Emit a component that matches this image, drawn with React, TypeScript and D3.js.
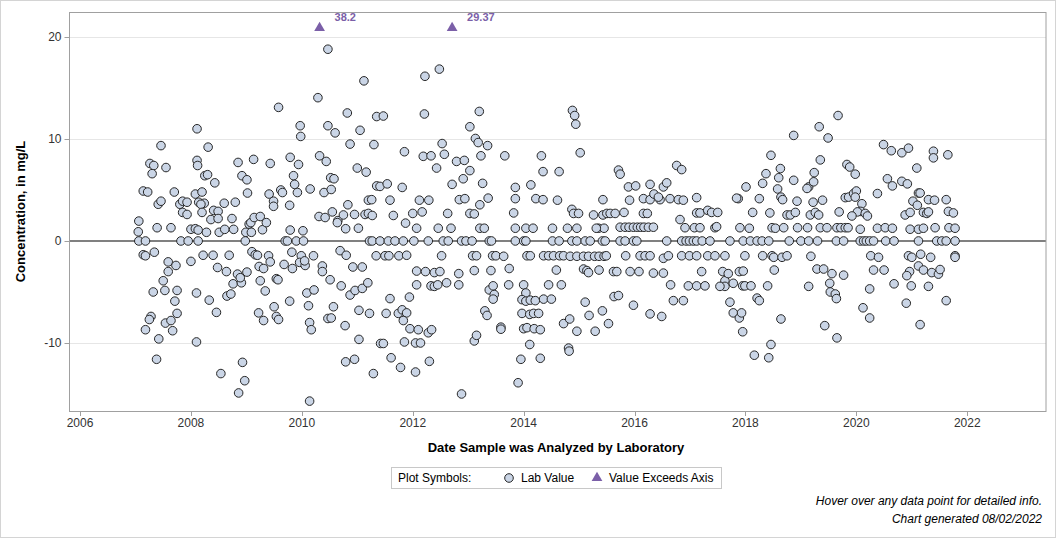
import React from "react";
import * as d3 from "d3";

// ---- data: [decimal year analyzed, concentration mg/L] ----
const labValues2007to2008: [number, number][] = [
  [2007.06,1.95],[2007.05,0.9],[2007.06,0],[2007.18,0],[2007.14,4.9],[2007.22,4.8],[2007.14,-1.35],[2007.18,-1.45],[2007.34,-1.1],[2007.26,7.6],[2007.33,7.4],[2007.3,6.6],[2007.46,9.35],[2007.55,7.2],[2007.41,3.6],[2007.46,3.9],[2007.39,1.3],[2007.64,1.3],[2007.7,4.8],[2007.8,3.6],[2007.85,3.9],[2007.85,2.8],[2007.93,2.6],[2007.93,3.8],[2007.82,0],[2007.95,0],[2008.0,1.15],[2008.08,1.2],[2008.13,0],[2007.59,-2.05],[2007.59,-3.0],[2007.73,-2.4],[2008.0,-2.0],[2007.5,-3.9],[2007.32,-5.0],[2007.53,-4.85],[2007.75,-4.85],[2007.71,-5.9],[2007.75,-7.1],[2007.28,-7.4],[2007.25,-7.7],[2007.18,-8.7],[2007.54,-8.05],[2007.64,-7.8],[2007.67,-8.8],[2007.42,-9.6],[2007.38,-11.6],[2008.1,-9.9],[2008.1,-5.1],[2008.11,11.0],[2008.11,7.9],[2008.12,7.4],[2008.08,4.6],
  [2008.13,1.07],[2008.31,9.2],[2008.25,6.4],[2008.3,6.5],[2008.43,5.7],[2008.2,4.8],[2008.14,3.8],[2008.24,3.7],[2008.18,3.6],[2008.2,2.8],[2008.41,3.0],[2008.49,2.9],[2008.36,2.1],[2008.49,2.2],[2008.28,0.85],[2008.51,0.85],[2008.61,1.14],[2008.77,1.14],[2008.6,3.7],[2008.8,3.8],[2008.74,2.2],[2008.22,-1.4],[2008.4,-1.4],[2008.69,-1.4],[2008.48,-2.6],[2008.64,-3.0],[2008.33,-5.8],[2008.65,-5.4],[2008.72,-5.2],[2008.76,-4.2],[2008.84,-3.25],[2008.91,-4.1],[2008.89,-3.6],[2009.01,-3.05],[2008.46,-7.0],[2008.54,-13.0],[2008.86,-14.9],[2008.93,-11.9],[2008.97,-13.7],[2008.85,7.7],[2008.92,6.4],[2009.01,6.0],[2009.02,4.7],[2008.99,0.85],[2009.05,1.65],[2008.98,0],
];

const labValues2009to2010: [number, number][] = [
  [2009.13,8.0],[2009.08,1.8],[2009.14,2.3],[2009.25,2.4],[2009.29,1.1],[2009.36,1.8],[2009.09,0.85],[2009.1,-1.05],[2009.16,-1.35],[2009.2,-1.4],[2009.23,-2.5],[2009.31,-2.7],[2009.25,-3.9],[2009.34,-4.9],[2009.22,-7.05],[2009.31,-7.8],[2009.4,-1.45],[2009.43,-2.05],[2009.41,4.6],[2009.49,3.9],[2009.49,3.4],[2009.43,7.6],[2009.58,13.1],[2009.62,5.0],[2009.65,4.75],[2009.78,3.5],[2009.79,8.2],[2009.85,6.4],[2009.87,5.55],[2009.94,7.5],[2009.92,4.75],[2009.79,1.07],[2009.7,0],[2009.74,0],[2009.9,0],[2010.03,0],[2010.02,1.0],[2009.82,-1.1],[2009.68,-2.3],[2009.83,-2.7],[2009.54,-3.7],[2009.57,-3.8],[2009.5,-6.45],[2009.54,-7.4],[2009.58,-7.7],[2009.78,-5.9],
  [2010.47,18.8],[2010.29,14.05],[2009.97,11.3],[2009.98,10.25],[2009.99,-1.45],[2009.96,-2.1],[2010.06,-2.4],[2010.05,-1.95],[2010.21,-1.45],[2010.09,-5.1],[2010.22,-4.8],[2010.12,-6.35],[2010.14,-8.0],[2010.17,-8.7],[2010.14,-15.7],[2010.15,5.1],[2010.32,8.35],[2010.44,7.8],[2010.31,2.4],[2010.42,2.3],[2010.4,4.75],[2010.53,5.05],[2010.52,6.2],[2010.58,6.1],[2010.37,-2.45],[2010.37,-3.0],[2010.51,-3.8],[2010.47,-7.6],[2010.53,-7.55],[2010.57,-6.45],[2010.47,11.3],[2010.6,10.6],[2010.65,2.0],[2010.64,1.8],[2010.55,2.85],[2010.75,2.55],[2010.79,1.2],[2010.69,-0.95],[2010.8,-1.4],[2010.71,-4.4],[2010.78,-8.3],[2010.83,3.55],[2010.82,12.55],[2010.87,9.5],[2010.95,2.6],
];

const labValues2011to2012: [number, number][] = [
  [2011.02,1.25],[2011.14,2.6],[2011.2,2.7],[2011.0,7.15],[2011.16,6.75],[2011.05,10.85],[2011.12,15.7],[2011.2,4.0],[2010.87,-5.3],[2010.92,-2.55],[2010.96,-4.85],[2011.09,-2.55],[2011.09,-4.65],[2011.19,-4.1],[2011.03,-6.8],[2011.22,-7.1],[2010.79,-11.85],[2010.95,-11.6],[2011.03,-9.65],[2011.22,0],
  [2011.3,9.45],[2011.35,12.2],[2011.47,12.25],[2011.35,5.4],[2011.41,5.35],[2011.54,5.6],[2011.26,4.05],[2011.27,2.5],[2011.59,4.0],[2011.65,2.5],[2011.81,5.25],[2011.87,1.75],[2011.85,8.75],[2011.27,0],[2011.41,0],[2011.56,0],[2011.68,0],[2011.83,0],[2012.02,0],[2012.28,0],[2011.34,-1.45],[2011.5,-1.45],[2011.57,-1.45],[2011.75,-1.45],[2011.89,-1.4],[2011.59,-5.65],[2011.94,-5.5],[2011.52,-7.1],[2011.74,-7.1],[2011.81,-6.75],[2011.89,-7.05],[2011.83,-7.8],[2011.42,-10.05],[2011.47,-10.05],[2011.61,-11.45],[2011.29,-13.0],[2011.78,-12.4],[2011.85,-9.9],[2011.95,-8.6],[2012.1,-8.7],[2012.05,-10.0],[2012.14,-10.0],[2012.05,-12.85],[2012.3,-11.8],[2012.28,-9.0],[2012.34,-8.7],
  [2012.07,-2.95],[2012.23,-3.0],[2012.39,-3.1],[2012.49,-3.0],[2012.07,-4.3],[2012.33,-4.4],[2012.39,-4.45],[2012.45,-4.3],[2012.61,-4.1],[2012.83,-4.3],[2012.83,-3.2],[2012.52,-1.45],[2012.07,1.25],[2012.17,2.85],[2012.12,4.0],[2012.29,4.0],[2012.0,2.7],[2012.46,1.25],[2012.63,2.7],[2012.69,1.25],[2012.43,7.15],[2012.19,8.3],[2012.33,8.35],[2012.53,9.55],[2012.57,8.5],[2012.21,12.45],[2012.22,16.15],[2012.48,16.85],[2012.71,5.55],[2012.79,7.8],[2012.93,7.9],[2012.84,4.05],[2012.94,4.15],[2012.91,6.1],[2012.55,0],[2012.64,0],[2012.88,0],[2012.96,0],[2012.88,-15.0],
];

const labValues2013to2014: [number, number][] = [
  [2013.03,6.9],[2013.03,11.2],[2013.2,12.7],[2013.13,10.05],[2013.18,9.65],[2013.23,8.35],[2013.26,5.65],[2013.21,3.55],[2013.03,2.7],[2013.11,2.65],[2013.21,1.25],[2013.29,1.25],[2013.07,0],[2013.08,-1.45],[2013.15,-1.45],[2013.11,-2.9],[2013.11,-9.8],[2013.15,-9.25],[2013.3,-6.85],[2013.34,-7.3],[2013.38,-4.8],
  [2013.35,9.35],[2013.66,8.35],[2013.36,4.2],[2013.38,0],[2013.42,0],[2013.44,-1.45],[2013.5,-1.45],[2013.64,-1.5],[2013.41,-2.9],[2013.74,-2.7],[2013.45,-4.4],[2013.47,-5.25],[2013.45,-5.7],[2013.73,-4.3],[2013.59,-8.45],[2013.59,-8.65],[2013.82,2.75],[2013.85,4.15],[2013.85,5.25],[2013.85,1.25],[2013.85,0],[2014.0,0],[2014.04,0],[2014.04,1.25],[2014.17,1.25],[2014.06,-1.45],[2014.12,-1.45],[2014.0,-4.3],[2014.04,-5.1],[2013.97,-5.75],[2014.04,-5.9],[2014.12,-5.8],[2014.21,-5.85],[2013.97,-7.1],[2014.11,-7.2],[2014.18,-7.1],[2014.27,-7.1],[2014.0,-8.6],[2014.06,-8.5],[2014.19,-8.6],[2014.3,-8.7],[2014.11,-10.15],[2013.95,-11.6],[2014.3,-11.5],[2013.9,-13.9],
  [2014.13,5.5],[2014.22,4.15],[2014.35,4.05],[2014.32,8.35],[2014.35,6.8],[2014.64,6.8],[2014.61,4.0],[2014.52,1.25],[2014.52,0],[2014.64,0],[2014.36,-1.45],[2014.45,-1.45],[2014.54,-1.45],[2014.65,-1.45],[2014.72,-1.45],[2014.59,-2.85],[2014.45,-4.3],[2014.68,-4.3],[2014.36,-5.7],[2014.5,-5.7],[2014.72,-8.1],[2014.83,-7.65],[2014.81,-10.5],[2014.82,-10.8],[2014.88,12.8],[2014.92,12.3],[2014.94,11.45],[2014.79,1.25],[2014.87,3.1],[2014.9,2.7],[2014.99,2.7],[2014.96,1.25],[2014.87,0],[2014.96,0],[2014.84,-1.5],[2014.96,-1.5],[2014.96,-8.85],
];

const labValues2015to2016: [number, number][] = [
  [2015.02,8.65],[2015.11,0],[2015.2,0],[2015.08,-1.5],[2015.17,-1.5],[2015.28,-1.5],[2015.36,-1.5],[2015.45,-1.5],[2015.08,-2.75],[2015.14,-2.9],[2015.17,-3.1],[2015.36,-2.85],[2015.11,-6.0],[2015.18,-7.3],[2015.29,-8.85],[2015.42,-6.85],[2015.53,-8.1],[2015.43,4.05],[2015.26,2.55],[2015.35,1.25],[2015.43,2.55],[2015.45,1.25],[2015.5,2.7],[2015.31,1.25],[2015.42,0],
  [2015.56,2.7],[2015.65,2.7],[2015.74,1.35],[2015.83,1.35],[2015.9,1.35],[2015.98,1.35],[2016.05,1.35],[2016.11,1.35],[2016.17,1.35],[2016.25,1.35],[2016.34,1.35],[2015.47,0],[2015.74,0],[2015.83,0],[2015.98,0],[2016.04,0],[2016.58,0],[2016.85,0],[2016.93,0],[2016.99,0],
  [2015.49,-1.45],[2015.84,-1.45],[2016.1,-1.45],[2016.19,-1.45],[2016.28,-1.45],[2016.52,-1.7],[2016.61,-1.45],[2016.85,-1.45],[2016.99,-1.45],
  [2015.62,-3.0],[2015.68,-3.0],[2015.92,-3.0],[2016.08,-3.0],[2016.34,-3.15],[2016.52,-3.15],[2016.65,-4.3],[2016.97,-4.4],[2016.7,-5.85],[2016.88,-5.85],[2015.63,-5.45],[2015.71,-5.35],[2015.98,-6.3],[2016.28,-7.15],[2016.49,-7.4],[2015.71,6.95],[2015.74,6.55],[2015.89,5.3],[2016.02,5.4],[2016.28,5.55],[2016.52,5.3],[2016.58,5.7],[2015.91,4.0],[2016.16,4.15],[2016.28,4.05],[2016.35,4.6],[2016.46,4.05],[2016.43,4.3],[2016.64,4.15],[2016.79,4.05],[2016.88,4.0],[2016.16,2.7],[2016.23,2.7],[2015.81,2.8],[2016.82,2.1],[2016.91,1.3],[2016.76,7.4],[2016.85,7.0],
];

const labValues2017to2018: [number, number][] = [
  [2017.06,0],[2017.12,0],[2017.22,0],[2017.36,0],[2017.12,-1.45],[2017.32,-1.45],[2017.45,-1.45],[2017.63,-1.45],[2017.12,-4.4],[2017.27,-4.4],[2017.21,-3.0],[2017.12,4.25],[2017.08,1.3],[2017.18,1.3],[2017.45,1.3],[2017.48,1.4],[2017.12,2.75],[2017.18,2.75],[2017.32,3.0],[2017.39,2.8],[2017.5,2.8],[2017.59,-3.0],[2017.63,-3.9],[2017.69,-3.2],[2017.63,-4.45],
  [2017.54,-4.45],[2017.72,0],[2017.96,0],[2018.09,0],[2018.21,0],[2018.3,0],[2018.42,0],[2017.78,-4.15],[2017.72,-6.0],[2017.78,-7.05],[2017.89,-7.55],[2017.93,-7.05],[2017.95,-8.9],[2017.89,-3.0],[2017.96,-2.95],[2017.95,-4.4],[2017.99,-4.4],[2018.1,-4.4],[2017.99,-1.45],[2018.31,-1.45],[2018.21,-5.6],[2018.25,-5.85],[2018.4,-4.4],[2018.48,-1.45],[2018.51,-1.6],[2018.66,-1.6],[2018.75,-1.45],[2018.52,-2.85],[2018.64,-7.65],[2018.46,-10.15],[2018.42,-11.45],[2018.16,-11.2],
  [2017.9,1.3],[2018.07,1.25],[2017.87,4.15],[2017.84,4.2],[2018.01,5.3],[2018.13,2.8],[2018.25,4.15],[2018.31,5.65],[2018.37,6.6],[2018.46,8.4],[2018.44,2.75],[2018.48,1.3],[2018.54,1.25],[2018.58,5.1],[2018.6,6.2],[2018.63,7.1],[2018.64,4.3],[2018.67,4.05],[2018.69,1.3],[2018.75,2.55],[2018.81,2.55],[2018.87,5.95],[2018.9,2.8],[2018.93,3.9],[2018.94,1.3],[2018.87,10.35],[2018.79,0],
];

const labValues2019to2021: [number, number][] = [
  [2019.0,0],[2019.14,0],[2019.12,1.3],[2019.14,5.3],[2019.11,5.15],[2019.18,-1.5],[2019.14,-4.45],[2019.17,2.55],[2019.23,5.8],[2019.22,3.8],[2019.26,2.8],[2019.24,6.7],[2019.3,0],[2019.35,1.3],[2019.35,7.95],[2019.33,11.2],[2019.32,2.55],[2019.39,4.0],[2019.29,-2.75],[2019.41,-2.75],[2019.47,1.3],[2019.43,-8.3],[2019.49,10.1],[2019.52,-4.15],[2019.56,-3.2],[2019.53,-5.0],[2019.62,-5.2],[2019.64,-5.65],[2019.65,-9.5],[2019.67,12.3],[2019.69,2.85],[2019.65,1.3],[2019.64,0],[2019.77,0],[2019.72,1.3],[2019.8,1.3],[2019.85,1.3],[2019.83,7.5],[2019.88,7.25],[2019.8,4.25],[2019.86,4.3],[2019.77,-3.35],
  [2019.98,6.55],[2019.95,4.65],[2020.0,4.9],[2019.98,4.3],[2020.1,3.65],[2020.08,2.9],[2020.02,2.85],[2020.16,2.7],[2020.2,2.45],[2019.92,2.45],[2020.07,1.15],[2020.07,0],[2020.13,0],[2020.18,0],[2020.24,0],[2020.31,0],[2020.53,0],[2020.68,0],[2020.38,4.65],[2020.38,1.25],[2020.52,1.3],[2020.65,1.25],[2020.56,6.1],[2020.65,5.4],[2020.49,9.45],[2020.63,8.85],[2020.82,8.65],[2020.94,9.1],[2020.82,5.85],[2020.92,5.6],[2021.09,7.15],[2021.02,3.9],[2021.12,4.7],[2021.15,4.7],[2021.1,3.5],[2020.88,2.55],[2020.97,2.8],[2021.21,2.8],[2021.27,2.7],[2021.3,2.85],[2020.97,1.15],[2021.12,1.15],[2021.21,1.25],[2021.42,1.3],[2021.3,4.05],[2021.41,4.0],[2021.62,4.05],[2021.39,8.8],[2021.39,8.15],[2021.65,8.45],[2021.66,2.9],[2021.75,2.75],[2021.67,1.3],[2021.78,1.25],[2021.12,0],[2021.45,0],[2021.54,0],[2021.62,0],[2021.78,0],
  [2020.26,-1.45],[2020.4,-1.6],[2020.94,-1.45],[2021.0,-1.6],[2021.16,-1.3],[2021.34,-1.6],[2021.78,-1.45],[2021.78,-1.6],[2020.31,-2.85],[2020.5,-2.85],[2021.12,-2.45],[2021.21,-2.85],[2021.36,-3.1],[2021.48,-3.25],[2021.51,-2.8],[2020.96,-3.0],[2020.91,-3.4],[2020.68,-4.2],[2020.99,-4.4],[2021.3,-4.45],[2020.24,-4.7],[2020.9,-6.1],[2021.62,-5.85],[2020.12,-6.55],[2020.24,-7.55],[2021.15,-8.2],
];

// values above the axis maximum, drawn as triangles at the top
const exceedYears = [2010.32, 2012.71];
const exceedValues = [38.2, 29.37];

const xTicks = [2006, 2008, 2010, 2012, 2014, 2016, 2018, 2020, 2022];
const yTicks = [20, 10, 0, -10];

const W = 1056, H = 538;
const M = { left: 69.5, right: 1046, top: 12, bottom: 411 };
const FONT = "'Liberation Sans', Arial, Helvetica, sans-serif";

export default function App() {
  const x = d3.scaleLinear().domain([2005.81, 2023.42]).range([M.left, M.right]);
  const y = d3.scaleLinear().domain([-16.67, 22.45]).range([M.bottom, M.top]);

  const all = [
    ...labValues2007to2008, ...labValues2009to2010, ...labValues2011to2012,
    ...labValues2013to2014, ...labValues2015to2016, ...labValues2017to2018,
    ...labValues2019to2021,
  ];
  const tri = d3.symbol().type(d3.symbolTriangle).size(50)() as string;
  const triTop = M.top + 16;
  const purple = "#7B5FA8";

  return (
    <svg width={W} height={H} style={{ position: "absolute", left: 0, top: 0, background: "#fff" }} fontFamily={FONT}>
      <rect x={0.5} y={0.5} width={W - 1} height={H - 1} fill="#fff" stroke="#D4D4D4" />
      {/* gridlines */}
      {yTicks.filter((t) => t !== 0).map((t) => (
        <line key={t} x1={M.left} x2={M.right} y1={Math.round(y(t)) + 0.5} y2={Math.round(y(t)) + 0.5} stroke="#E6E6E6" />
      ))}
      <line x1={M.left} x2={M.right} y1={y(0)} y2={y(0)} stroke="#808080" strokeWidth={2} />
      {/* points */}
      {all.map(([yr, v], i) => (
        <circle key={i} cx={x(yr)} cy={y(v)} r={4.3} fill="#CAD5E6" stroke="#262626" strokeWidth={1} />
      ))}
      {exceedYears.map((yr, i) => (
        <g key={"e" + i}>
          <path d={tri} transform={`translate(${x(yr)},${triTop})`} fill={purple} />
          <text x={x(yr) + 15} y={triTop - 7} fontSize={11} fontWeight="bold" fill={purple}>{exceedValues[i]}</text>
        </g>
      ))}
      {/* frame */}
      <rect x={M.left} y={M.top + 0.5} width={M.right - M.left} height={M.bottom - M.top} fill="none" stroke="#A0A0A0" />
      {/* y axis */}
      {yTicks.map((t) => (
        <g key={"yt" + t}>
          <line x1={M.left - 5} x2={M.left} y1={Math.round(y(t)) + 0.5} y2={Math.round(y(t)) + 0.5} stroke="#A0A0A0" />
          <text x={M.left - 8} y={y(t)} dy="0.35em" textAnchor="end" fontSize={12} fill="#333">{t}</text>
        </g>
      ))}
      {/* x axis */}
      {xTicks.map((t) => (
        <g key={"xt" + t}>
          <line x1={Math.round(x(t)) + 0.5} x2={Math.round(x(t)) + 0.5} y1={M.bottom} y2={M.bottom + 5} stroke="#A0A0A0" />
          <text x={x(t)} y={M.bottom + 16} textAnchor="middle" fontSize={12} fill="#333">{t}</text>
        </g>
      ))}
      <text x={556} y={452} textAnchor="middle" fontSize={13} fontWeight="bold" fill="#000">Date Sample was Analyzed by Laboratory</text>
      <text transform={`translate(25,${(M.top + M.bottom) / 2}) rotate(-90)`} textAnchor="middle" fontSize={13} fontWeight="bold" fill="#000">Concentration, in mg/L</text>
      {/* legend */}
      <rect x={391.5} y={467.5} width={330} height={21} fill="#fff" stroke="#C8C8C8" />
      <text x={398} y={482} fontSize={12} fill="#000">Plot Symbols:</text>
      <circle cx={509} cy={478} r={4.3} fill="#CAD5E6" stroke="#262626" />
      <text x={521} y={482} fontSize={12} fill="#000">Lab Value</text>
      <path d={tri} transform={`translate(597,478)`} fill={purple} />
      <text x={609} y={482} fontSize={12} fill="#000">Value Exceeds Axis</text>
      {/* footer */}
      <text x={1042} y={505} textAnchor="end" fontSize={12} fontStyle="italic" fill="#000">Hover over any data point for detailed info.</text>
      <text x={1042} y={523} textAnchor="end" fontSize={12} fontStyle="italic" fill="#000">Chart generated 08/02/2022</text>
    </svg>
  );
}
